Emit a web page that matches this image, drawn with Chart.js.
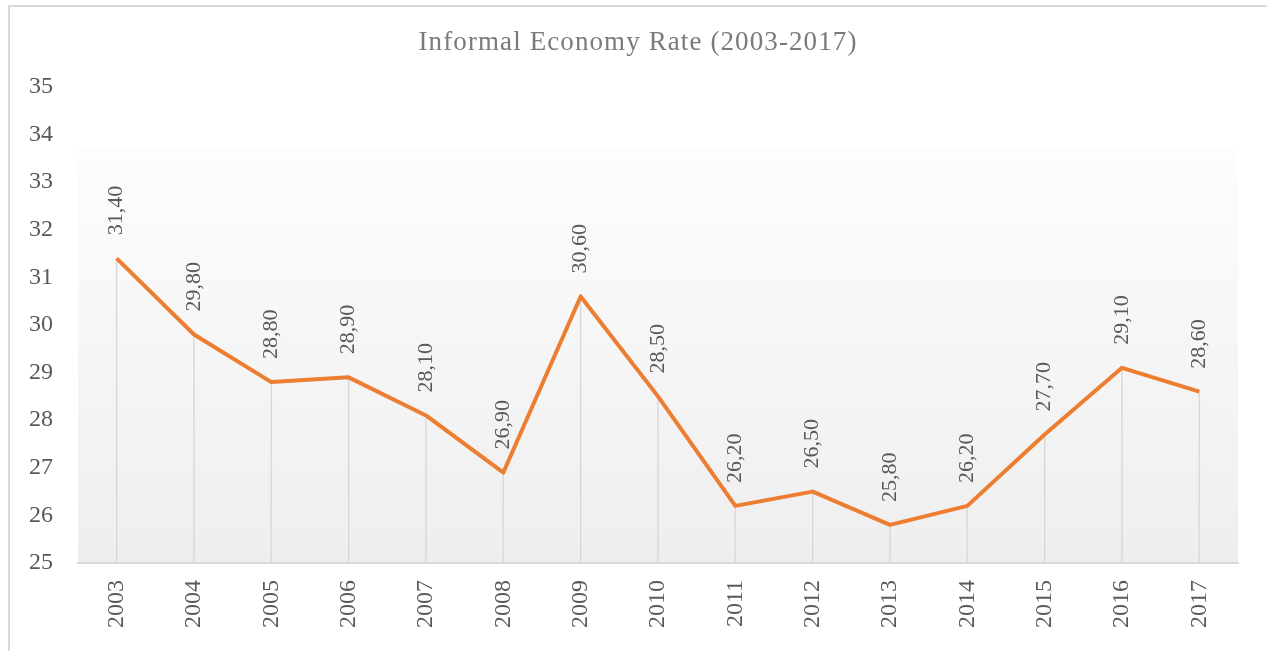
<!DOCTYPE html>
<html>
<head>
<meta charset="utf-8">
<style>
  html, body { margin: 0; padding: 0; background: #fff; }
  #wrap { width: 1267px; height: 651px; position: relative; }
</style>
<script src="https://cdn.jsdelivr.net/npm/chart.js@4/dist/chart.umd.min.js"></script>
</head>
<body>
<div id="wrap"><canvas id="chart"></canvas></div>
<script>
const years = ["2003", "2004", "2005", "2006", "2007", "2008", "2009", "2010",
  "2011", "2012", "2013", "2014", "2015", "2016", "2017"]
const rates = [31.4, 29.8, 28.8, 28.9, 28.1, 26.9, 30.6, 28.5,
  26.2, 26.5, 25.8, 26.2, 27.7, 29.1, 28.6]
const yMin = 25
const yMax = 35
const title = "Informal Economy Rate (2003-2017)"

const SERIF = "'Liberation Serif', 'Times New Roman', serif"
const GREY = "#595959"

// outer frame, title, gradient plot background
const backdrop = {
  id: "backdrop",
  beforeDraw(chart) {
    const { ctx, chartArea: a, width } = chart
    ctx.save()
    ctx.strokeStyle = "#d9d9d9"
    ctx.lineWidth = 2
    ctx.beginPath()
    ctx.moveTo(9, 700)
    ctx.lineTo(9, 6)
    ctx.lineTo(1300, 6)
    ctx.stroke()

    const top = a.top + 62
    const g = ctx.createLinearGradient(0, top, 0, a.bottom)
    g.addColorStop(0, "#fdfdfd")
    g.addColorStop(1, "#eeeeee")
    ctx.fillStyle = g
    ctx.fillRect(a.left, top, a.right - a.left, a.bottom - top)

    ctx.fillStyle = "#7a7a7a"
    ctx.font = "27px " + SERIF
    ctx.letterSpacing = "1.1px"
    ctx.textAlign = "center"
    ctx.textBaseline = "middle"
    ctx.fillText(title, 638, 43)
    ctx.restore()
  }
}

// drop lines under each point, then rotated value labels above
const dropsAndLabels = {
  id: "dropsAndLabels",
  beforeDatasetsDraw(chart) {
    const { ctx, chartArea: a } = chart
    const pts = chart.getDatasetMeta(0).data
    ctx.save()
    ctx.strokeStyle = "#d9d9d9"
    ctx.lineWidth = 1.5
    pts.forEach(p => {
      ctx.beginPath()
      ctx.moveTo(p.x, p.y)
      ctx.lineTo(p.x, a.bottom)
      ctx.stroke()
    })
    ctx.restore()
  },
  afterDatasetsDraw(chart) {
    const { ctx } = chart
    const pts = chart.getDatasetMeta(0).data
    ctx.save()
    ctx.fillStyle = GREY
    ctx.font = "22px " + SERIF
    ctx.textAlign = "left"
    ctx.textBaseline = "middle"
    pts.forEach((p, i) => {
      ctx.save()
      ctx.translate(p.x, p.y - 23)
      ctx.rotate(-Math.PI / 2)
      ctx.fillText(rates[i].toFixed(2).replace(".", ","), 0, 0)
      ctx.restore()
    })
    ctx.restore()
  }
}

new Chart(document.getElementById("chart"), {
  type: "line",
  data: {
    labels: years,
    datasets: [{
      data: rates,
      borderColor: "#ED7D31",
      borderWidth: 4,
      pointRadius: 0,
      tension: 0,
      borderJoinStyle: "round"
    }]
  },
  options: {
    responsive: true,
    maintainAspectRatio: false,
    animation: false,
    layout: { padding: { left: 0, right: 29, top: 87, bottom: 0 } },
    plugins: {
      legend: { display: false },
      tooltip: { enabled: false },
      title: { display: false }
    },
    scales: {
      x: {
        offset: true,
        grid: { display: false, drawTicks: false, tickLength: 0 },
        border: { display: true, color: "#d9d9d9", width: 2 },
        ticks: {
          color: GREY,
          font: { family: SERIF, size: 24 },
          minRotation: 90,
          maxRotation: 90,
          padding: 17,
          autoSkip: false
        },
        afterFit: s => { s.height = 88 }
      },
      y: {
        min: yMin,
        max: yMax,
        grid: { display: false, drawTicks: false, tickLength: 0 },
        border: { display: false },
        ticks: {
          stepSize: 1,
          color: GREY,
          font: { family: SERIF, size: 24 },
          padding: 25
        },
        afterFit: s => { s.width = 78 }
      }
    }
  },
  plugins: [backdrop, dropsAndLabels]
})
</script>
</body>
</html>
